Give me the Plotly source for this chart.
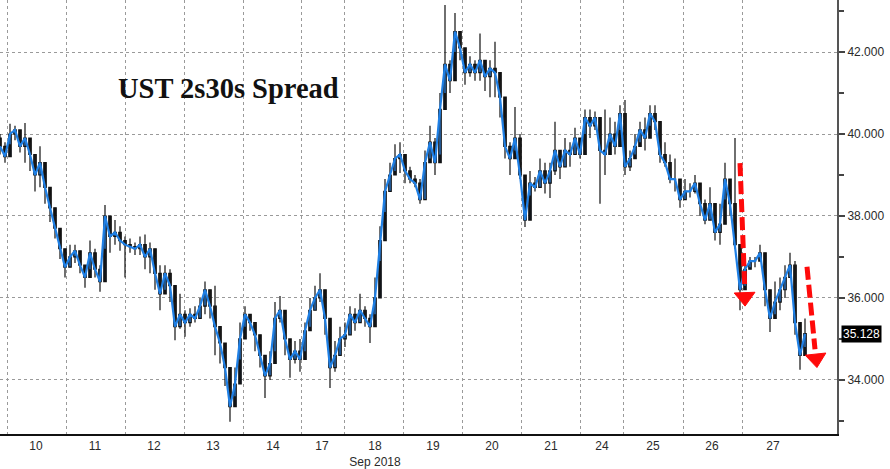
import plotly.graph_objects as go

# ---- data (one bar every ~5 px of the original) ----
close = [39.7, 39.45, 40.0, 40.1, 39.7, 39.9, 39.5, 39.0, 39.3, 38.7,
         38.2, 37.7, 37.2, 36.75, 37.0, 37.15, 36.8, 36.5, 37.1, 36.7,
         36.4, 38.0, 37.5, 37.6, 37.4, 37.3, 37.25, 37.2, 37.3, 37.0,
         37.2, 36.6, 36.1, 36.6, 36.3, 35.3, 35.6, 35.4, 35.6, 35.5,
         35.8, 36.2, 35.8, 35.3, 34.9, 34.3, 33.35, 33.9, 35.0, 35.6,
         35.4, 35.1, 34.6, 34.1, 34.4, 35.5, 35.7, 35.0, 34.5, 34.7,
         34.5, 35.2, 35.7, 36.0, 36.2, 35.5, 34.3, 34.6, 35.0, 35.1,
         35.6, 35.4, 35.7, 35.5, 35.3, 36.0, 37.4, 38.6, 39.0, 39.4,
         39.5, 39.1, 38.9, 38.8, 38.4, 39.3, 39.8, 39.3, 40.6, 41.7,
         41.3, 42.5, 42.1, 41.5, 41.7, 41.5, 41.8, 41.4, 41.6, 41.5,
         40.9, 39.7, 39.4, 39.9, 39.0, 37.9, 38.8, 38.7, 39.1, 38.8,
         39.1, 39.6, 39.2, 39.6, 39.5, 39.9, 39.5, 40.4, 40.2, 40.4,
         39.6, 39.5, 40.0, 39.7, 40.5, 39.2, 39.4, 39.7, 40.1, 39.9,
         40.5, 40.3, 39.5, 39.3, 38.9, 38.9, 38.4, 38.6, 38.6, 38.8,
         38.3, 37.9, 38.3, 37.6, 37.8, 38.9, 38.3, 37.3, 36.2, 36.7,
         36.9, 36.9, 37.1, 36.2, 35.5, 35.9, 36.2, 36.5, 36.8, 35.4,
         34.6, 35.128]
high = [40.0, 39.8, 40.25, 40.2, 39.9, 40.27, 39.8, 39.5, 39.7, 39.0,
        38.5, 38.0, 37.5, 37.1, 37.3, 37.3, 37.05, 36.8, 37.4, 37.2,
        36.8, 38.27, 37.9, 37.9, 37.75, 37.5, 37.45, 37.35, 37.5, 37.55,
        37.35, 37.0, 36.8, 36.8, 36.7, 35.9, 36.1, 35.7, 35.75, 35.8,
        36.0, 36.4, 36.2, 36.3, 35.3, 34.75, 33.8, 34.3, 35.4, 35.8,
        35.6, 35.4, 35.0, 34.6, 34.7, 35.9, 36.05, 35.6, 34.9, 34.95,
        35.0, 35.4, 36.0, 36.3, 36.6, 36.0, 34.8, 34.95, 35.3, 35.4,
        35.8, 35.75, 36.1, 35.8, 35.6, 36.5, 37.75, 38.9, 39.3, 39.75,
        39.8, 39.4, 39.2, 39.0, 38.9, 39.6, 40.2, 39.9, 41.0, 43.15,
        41.8, 42.95, 42.5, 41.9, 41.9, 41.8, 42.45, 41.7, 41.8, 42.25,
        41.3, 40.4, 39.8, 40.66, 40.0, 38.4, 39.1, 38.95, 39.4, 39.3,
        39.3, 40.3, 39.5, 39.9, 39.8, 40.15, 39.8, 40.6, 40.6, 40.55,
        40.1, 40.6, 40.4, 40.3, 40.7, 40.83, 39.6, 40.0, 40.3, 40.4,
        40.7, 40.7, 40.3, 39.8, 39.5, 39.4, 38.9, 38.9, 38.8, 39.0,
        38.75, 38.4, 38.7, 38.0, 38.3, 39.3, 38.6, 39.9, 36.8, 37.0,
        37.0, 37.0, 37.3, 36.8, 36.0, 36.4, 36.5, 36.8, 37.1, 36.9,
        35.3, 35.5]
low = [39.5, 39.3, 39.75, 39.85, 39.55, 39.3, 39.1, 38.6, 38.7, 38.3,
       37.85, 37.45, 36.95, 36.5, 36.75, 36.85, 36.6, 36.25, 36.7, 36.5,
       36.15, 37.2, 37.1, 37.3, 37.15, 36.5, 37.1, 37.05, 37.05, 36.7,
       36.6, 36.2, 35.7, 36.2, 35.9, 34.97, 35.25, 35.05, 35.3, 35.4,
       35.5, 35.6, 35.5, 34.6, 34.4, 33.85, 32.98, 33.6, 34.5, 35.3,
       35.2, 34.7, 34.3, 33.56, 34.0, 34.7, 35.4, 34.6, 34.05, 34.4,
       34.2, 34.7, 35.3, 35.7, 35.9, 35.1, 33.8, 34.2, 34.6, 34.8,
       35.1, 35.2, 35.4, 35.3, 34.9, 35.6, 36.9, 38.1, 38.6, 39.1,
       39.05, 38.8, 38.8, 38.7, 38.3, 38.4, 39.4, 39.0, 39.5, 41.0,
       41.0, 42.0, 41.8, 41.2, 41.4, 41.3, 41.3, 41.05, 40.9, 40.9,
       40.4, 39.4, 39.0, 39.6, 38.9, 37.73, 38.5, 38.6, 38.7, 38.55,
       38.44, 39.0, 38.9, 39.2, 39.2, 39.5, 39.4, 40.0, 39.9, 40.1,
       38.3, 39.0, 39.8, 39.5, 40.1, 39.0, 39.1, 39.5, 39.8, 39.6,
       40.2, 40.1, 39.3, 39.2, 38.8, 38.6, 38.2, 38.4, 38.45, 38.55,
       38.0, 37.8, 37.9, 37.4, 37.3, 38.4, 38.0, 37.2, 35.7, 36.3,
       36.75, 36.75, 37.0, 35.8, 35.17, 35.6, 35.7, 36.0, 36.5, 35.1,
       34.25, 34.8]
open_ = [39.9] + close[:-1]          # each bar opens at the previous close
bar = list(range(len(close)))        # bar index (time axis)

day_labels = ["10", "11", "12", "13", "14", "17", "18<br>Sep 2018", "19",
              "20", "21", "24", "25", "26", "27"]
day_label_pos = [7.2, 19.0, 30.8, 42.6, 54.6, 64.4, 75.0, 86.6, 98.4,
                 110.2, 120.4, 130.6, 142.4, 154.6]
day_bounds = [1.4, 13.2, 25.0, 36.8, 48.6, 60.2, 68.8, 80.6, 92.4, 104.2,
              116.0, 124.6, 136.6, 148.4]
last_value = close[-1]

fig = go.Figure()
fig.add_trace(go.Candlestick(
    x=bar, open=open_, high=high, low=low, close=close,
    increasing=dict(line=dict(color="#111111", width=1.2), fillcolor="#2c7fd8"),
    decreasing=dict(line=dict(color="#111111", width=1.2), fillcolor="#1c1c1c"),
    whiskerwidth=0, hoverinfo="skip", showlegend=False))
fig.add_trace(go.Scatter(
    x=bar, y=close, mode="lines", line=dict(color="#1f80e6", width=2.2),
    hoverinfo="skip", showlegend=False))

# red dashed arrows (annotation graphics)
arrows = [([148.0, 148.95], [39.29, 36.25], 148.95, 36.02, -2),
          ([161.4, 163.0], [36.76, 34.75], 163.2, 34.52, -6)]
for xs, ys, hx, hy, ang in arrows:
    fig.add_trace(go.Scatter(
        x=xs, y=ys, mode="lines",
        line=dict(color="#ff0a0a", width=5, dash="13px,5px"),
        hoverinfo="skip", showlegend=False))
    fig.add_trace(go.Scatter(
        x=[hx], y=[hy], mode="markers",
        marker=dict(symbol="triangle-down", size=18, color="#ff0a0a", opacity=1,
                    angle=ang, line=dict(width=1, color="#ff0a0a")),
        hoverinfo="skip", showlegend=False))

fig.add_annotation(text="<b>UST 2s30s Spread</b>", xref="paper", yref="paper",
                   x=116 / 837, y=(434 - 89) / 434, xanchor="left", yanchor="middle",
                   showarrow=False,
                   font=dict(family="Liberation Serif", size=28.5, color="#111111"))
fig.add_annotation(text="%.3f" % last_value, xref="paper", yref="y",
                   x=1, y=last_value, xanchor="left", yanchor="middle", xshift=4,
                   showarrow=False, bgcolor="#000000", borderpad=1,
                   font=dict(family="Liberation Sans", size=12, color="#ffffff"))

fig.update_layout(
    width=890, height=469,
    margin=dict(l=0, r=53, t=0, b=35),
    paper_bgcolor="white", plot_bgcolor="white",
    font=dict(family="Liberation Sans", size=12, color="#2a2a2a"),
    xaxis=dict(range=[0, 167.4], rangeslider=dict(visible=False),
               tickmode="array", tickvals=day_label_pos, ticktext=day_labels,
               ticks="", ticklen=0, showgrid=False, zeroline=False,
               showline=True, linecolor="#111111", linewidth=2,
               minor=dict(tickmode="array", tickvals=day_bounds, showgrid=True,
                          gridcolor="#9a9a9a", griddash="dot", gridwidth=1, ticks="")),
    yaxis=dict(range=[32.68, 43.27], side="right",
               tickmode="array", tickvals=[34, 36, 38, 40, 42], tickformat=".3f",
               ticks="outside", ticklen=6, tickwidth=2, tickcolor="#444444",
               showgrid=True, gridcolor="#9a9a9a", griddash="dot", gridwidth=1,
               zeroline=False, showline=True, linecolor="#555555", linewidth=2,
               minor=dict(tickmode="array", tickvals=[33, 35, 37, 39, 41, 43],
                          ticks="outside", ticklen=5, tickcolor="#444444",
                          showgrid=False)),
)

fig.write_html("out.html",
               config={"displayModeBar": False},
               post_script="document.body.style.margin='0';"
                           "document.body.style.overflow='hidden';")
